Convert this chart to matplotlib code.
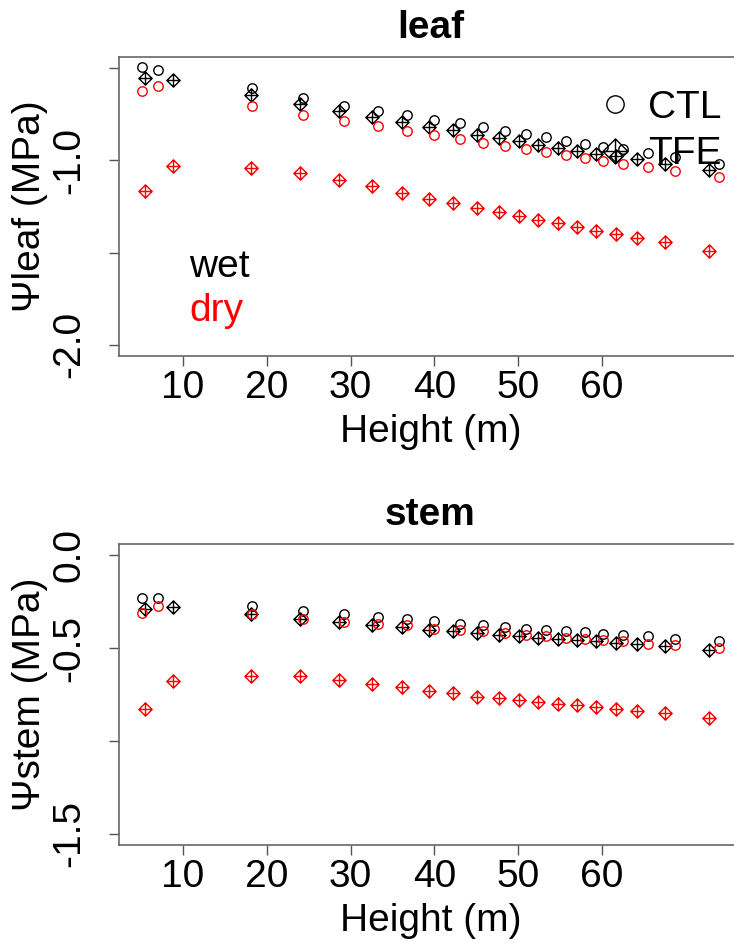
import matplotlib
matplotlib.use("Agg")
import matplotlib.pyplot as plt
from matplotlib.path import Path
from matplotlib.lines import Line2D

plt.rcParams['font.family'] = ['Liberation Sans', 'DejaVu Sans']
plt.rcParams['axes.unicode_minus'] = False

# ---------------- data ----------------
ctl_height = [5.1, 7.0, 18.2, 24.3, 29.2, 33.3, 36.7, 40.0, 43.1, 45.8,
              48.4, 50.9, 53.3, 55.7, 58.0, 60.2, 62.6, 65.5, 68.7, 74.0]
tfe_height = [5.4, 8.8, 18.1, 24.0, 28.6, 32.6, 36.1, 39.4, 42.2, 45.1,
              47.7, 50.1, 52.4, 54.8, 57.0, 59.3, 61.7, 64.2, 67.5, 72.8]

leaf_ctl_wet = [-0.496, -0.509, -0.610, -0.664, -0.704, -0.731, -0.754, -0.780, -0.798, -0.821,
                -0.839, -0.857, -0.875, -0.894, -0.911, -0.926, -0.939, -0.960, -0.980, -1.020]
leaf_ctl_dry = [-0.626, -0.599, -0.704, -0.753, -0.785, -0.816, -0.839, -0.863, -0.884, -0.906,
                -0.921, -0.939, -0.956, -0.971, -0.987, -1.002, -1.020, -1.038, -1.059, -1.092]
leaf_tfe_wet = [-0.556, -0.565, -0.645, -0.695, -0.734, -0.764, -0.791, -0.821, -0.836, -0.863,
                -0.879, -0.894, -0.915, -0.933, -0.948, -0.966, -0.975, -0.993, -1.020, -1.051]
leaf_tfe_dry = [-1.164, -1.029, -1.040, -1.070, -1.105, -1.140, -1.177, -1.207, -1.233, -1.260,
                -1.281, -1.300, -1.321, -1.339, -1.359, -1.381, -1.399, -1.420, -1.444, -1.492]

stem_ctl_wet = [-0.228, -0.228, -0.275, -0.302, -0.318, -0.333, -0.345, -0.356, -0.369, -0.378,
                -0.387, -0.396, -0.401, -0.409, -0.414, -0.423, -0.428, -0.437, -0.450, -0.462]
stem_ctl_dry = [-0.311, -0.274, -0.318, -0.342, -0.360, -0.369, -0.378, -0.396, -0.401, -0.409,
                -0.419, -0.432, -0.437, -0.444, -0.453, -0.459, -0.462, -0.477, -0.486, -0.498]
stem_tfe_wet = [-0.288, -0.279, -0.318, -0.345, -0.360, -0.374, -0.387, -0.401, -0.409, -0.419,
                -0.428, -0.435, -0.444, -0.450, -0.455, -0.462, -0.473, -0.480, -0.491, -0.509]
stem_tfe_dry = [-0.827, -0.678, -0.648, -0.653, -0.671, -0.692, -0.711, -0.732, -0.743, -0.761,
                -0.770, -0.779, -0.792, -0.800, -0.806, -0.815, -0.827, -0.840, -0.851, -0.876]

x_ticks = [10, 20, 30, 40, 50, 60]
leaf_yticks = [-2.0, -1.5, -1.0, -0.5]
leaf_yticklabels = ['-2.0', '', '-1.0', '']
stem_yticks = [-1.5, -1.0, -0.5, 0.0]
stem_yticklabels = ['-1.5', '', '-0.5', '0.0']
treatments = ['CTL', 'TFE']
conditions = ['wet', 'dry']
cond_colors = ['black', 'red']

# ---------------- style ----------------
FS = 28
diamond_plus = Path(
    [(0, 1), (1, 0), (0, -1), (-1, 0), (0, 1), (-1, 0), (1, 0), (0, -1), (0, 1)],
    [Path.MOVETO, Path.LINETO, Path.LINETO, Path.LINETO, Path.CLOSEPOLY,
     Path.MOVETO, Path.LINETO, Path.MOVETO, Path.LINETO])

fig = plt.figure(figsize=(7.34, 9.43), dpi=100)
W, H = 734.0, 943.0
LEFT_PX, RIGHT_PX = 119, 742

allx = ctl_height + tfe_height
xr = max(allx) - min(allx)
xlim = (min(allx) - 0.04 * xr, max(allx) + 0.04 * xr)


def make_axes(top_px, bot_px):
    return fig.add_axes([LEFT_PX / W, 1 - bot_px / H,
                         (RIGHT_PX - LEFT_PX) / W, (bot_px - top_px) / H])


def style_axes(ax, ylim, yticks, yticklabels, title, ylabel, top_px, bot_px):
    ax.set_xlim(*xlim)
    ax.set_ylim(*ylim)
    ax.set_xticks(x_ticks)
    ax.set_xticklabels([str(t) for t in x_ticks], fontsize=FS)
    ax.set_yticks(yticks)
    ax.set_yticklabels(yticklabels, fontsize=FS, rotation=90, va='center')
    ax.tick_params(axis='both', direction='out', length=7, width=1.0, color='#555555')
    ax.tick_params(axis='x', pad=3)
    ax.tick_params(axis='y', pad=16)
    for s in ax.spines.values():
        s.set_color('#666666')
        s.set_linewidth(1.2)
    hpx = bot_px - top_px
    wpx = RIGHT_PX - LEFT_PX
    ax.set_xlabel('Height (m)', fontsize=FS, va='center')
    ax.xaxis.set_label_coords(0.5, -76 / hpx)
    ax.set_ylabel(ylabel, fontsize=FS, va='center')
    ax.yaxis.set_label_coords(-89 / wpx, 0.5)
    ax.text(0.5, 1 + 29 / hpx, title, transform=ax.transAxes, ha='center', va='center',
            fontsize=FS, fontweight='bold')


def draw(ax, ctl_w, ctl_d, tfe_w, tfe_d):
    kw = dict(ls='none', mfc='none', mew=1.0)
    ax.plot(ctl_height, ctl_w, marker='o', ms=6.8, mec=cond_colors[0], **kw)
    ax.plot(tfe_height, tfe_w, marker=diamond_plus, ms=9.5, mec=cond_colors[0], **kw)
    ax.plot(ctl_height, ctl_d, marker='o', ms=6.8, mec=cond_colors[1], **kw)
    ax.plot(tfe_height, tfe_d, marker=diamond_plus, ms=9.5, mec=cond_colors[1], **kw)


# top panel: leaf
ax1 = make_axes(57, 356)
draw(ax1, leaf_ctl_wet, leaf_ctl_dry, leaf_tfe_wet, leaf_tfe_dry)
style_axes(ax1, (-2.06, -0.44), leaf_yticks, leaf_yticklabels, 'leaf', 'Ψleaf (MPa)', 57, 356)

handles = [Line2D([], [], ls='none', marker='o', ms=12.5, mfc='none', mec='black', mew=1.0),
           Line2D([], [], ls='none', marker=diamond_plus, ms=18, mfc='none', mec='black', mew=1.0)]
ax1.legend(handles, treatments, loc='upper left',
           bbox_to_anchor=((596 - LEFT_PX) / (RIGHT_PX - LEFT_PX), 1 - (90 - 57) / 299),
           frameon=False, fontsize=FS, handlelength=1.0, handletextpad=0.35,
           borderpad=0, borderaxespad=0, labelspacing=0.27)

ax1.text(10.75, -1.632, conditions[0], color=cond_colors[0], fontsize=FS, ha='left', va='baseline')
ax1.text(10.75, -1.870, conditions[1], color=cond_colors[1], fontsize=FS, ha='left', va='baseline')

# bottom panel: stem
ax2 = make_axes(544, 845)
draw(ax2, stem_ctl_wet, stem_ctl_dry, stem_tfe_wet, stem_tfe_dry)
style_axes(ax2, (-1.56, 0.06), stem_yticks, stem_yticklabels, 'stem', 'Ψstem (MPa)', 544, 845)

fig.savefig('out.png', dpi=100)
